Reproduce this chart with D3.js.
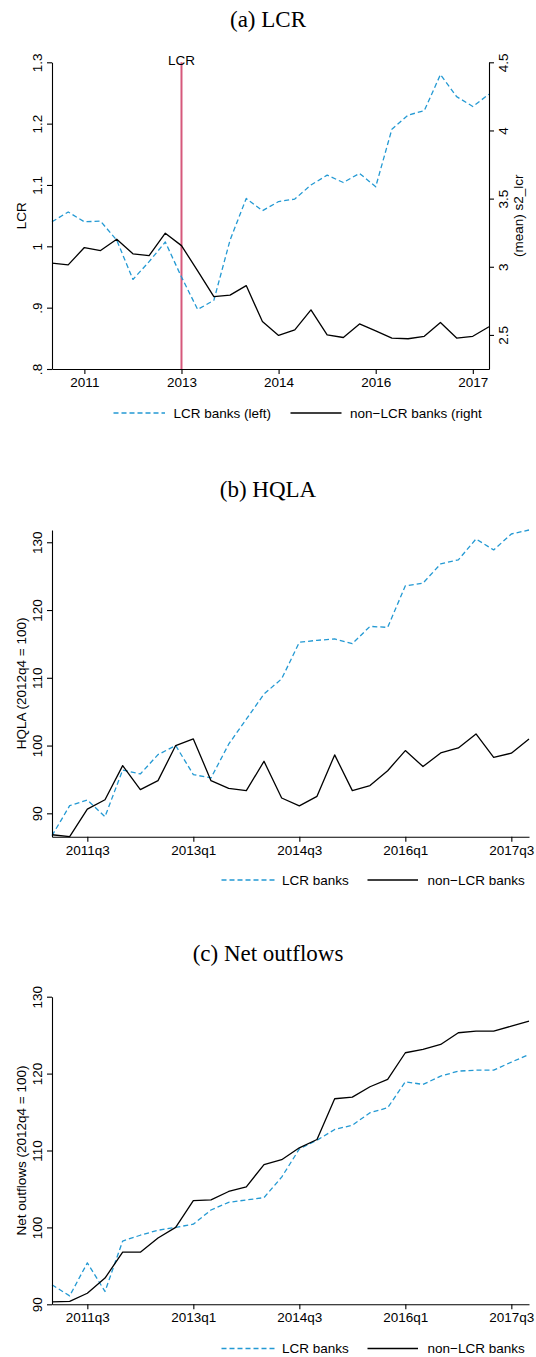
<!DOCTYPE html>
<html>
<head>
<meta charset="utf-8">
<script src="https://cdn.jsdelivr.net/npm/d3@7"></script>
<style>
  html, body { margin: 0; padding: 0; background: #fff; }
  svg { display: block; }
  text { font-family: "Liberation Sans", Arial, Helvetica, sans-serif; fill: #000; }
  .title { font-family: "Liberation Serif", "Times New Roman", serif; }
</style>
</head>
<body>
<svg id="fig" width="536" height="1357"></svg>
<script>
// Quarterly observation dates
const quarters = [
  "2011q1","2011q2","2011q3","2011q4",
  "2012q1","2012q2","2012q3","2012q4",
  "2013q1","2013q2","2013q3","2013q4",
  "2014q1","2014q2","2014q3","2014q4",
  "2015q1","2015q2","2015q3","2015q4",
  "2016q1","2016q2","2016q3","2016q4",
  "2017q1","2017q2","2017q3","2017q4"
];
const tickQuarters = ["2011q3","2013q1","2014q3","2016q1","2017q3"];
const yearTickLabels = ["2011","2013","2014","2016","2017"];
const eventQuarter = "2013q1";
const eventLabel = "LCR";

// (a) LCR: LCR banks (left axis) and non-LCR banks (right axis)
const lcrLCRBanks = [1.040, 1.056, 1.040, 1.041, 1.010, 0.946, 0.975, 1.007,
                     0.950, 0.897, 0.912, 1.010, 1.078, 1.058, 1.073, 1.077,
                     1.100, 1.116, 1.104, 1.119, 1.097, 1.191, 1.214, 1.221,
                     1.280, 1.244, 1.228, 1.248];
const lcrNonLCRBanks = [3.026, 3.014, 3.141, 3.119, 3.202, 3.095, 3.082, 3.246,
                        3.155, 2.970, 2.781, 2.792, 2.862, 2.598, 2.496, 2.537,
                        2.684, 2.501, 2.481, 2.581, 2.530, 2.477, 2.472, 2.490,
                        2.591, 2.477, 2.490, 2.560];
const lcrLeftTicks = [0.8, 0.9, 1.0, 1.1, 1.2, 1.3];
const lcrLeftTickLabels = [".8", ".9", "1", "1.1", "1.2", "1.3"];
const lcrRightTicks = [2.5, 3, 3.5, 4, 4.5];
const lcrRightTickLabels = ["2.5", "3", "3.5", "4", "4.5"];
const lcrLeftDomain = [0.8, 1.3];
const lcrRightDomain = [2.25, 4.5];

// (b) HQLA, index 2012q4 = 100
const hqlaLCRBanks = [86.70, 91.13, 91.97, 89.50, 96.40, 95.81, 98.66, 100.0,
                      95.71, 95.22, 100.2, 103.9, 107.6, 109.85, 115.24, 115.53,
                      115.73, 115.04, 117.59, 117.44, 123.57, 123.97, 126.81, 127.40,
                      130.49, 128.87, 131.22, 131.81];
const hqlaNonLCRBanks = [86.84, 86.55, 90.63, 92.01, 97.04, 93.50, 94.82, 100.0,
                         100.98, 94.82, 93.69, 93.35, 97.68, 92.26, 91.09, 92.51,
                         98.62, 93.35, 94.09, 96.29, 99.26, 96.90, 98.91, 99.65,
                         101.72, 98.27, 98.87, 100.98];

// (c) Net outflows, index 2012q4 = 100
const outflowsLCRBanks = [92.54, 91.09, 95.39, 91.67, 98.23, 98.98, 99.63, 100.0,
                          100.42, 102.26, 103.26, 103.57, 103.87, 106.54, 110.20, 111.34,
                          112.73, 113.29, 114.91, 115.56, 118.94, 118.59, 119.67, 120.32,
                          120.45, 120.45, 121.49, 122.49];
const outflowsNonLCRBanks = [90.31, 90.39, 91.44, 93.41, 96.78, 96.78, 98.63, 100.0,
                             103.48, 103.57, 104.67, 105.28, 108.17, 108.80, 110.35, 111.43,
                             116.73, 116.94, 118.29, 119.24, 122.71, 123.14, 123.79, 125.31,
                             125.52, 125.52, 126.17, 126.83];
const indexTicks = [90, 100, 110, 120, 130];

const BLUE = "#2399d3";
const EVENT_RED = "#d6587b";
const FS = "13.5px";

const svg = d3.select("#fig");

function styleAxis(g) {
  g.selectAll("path.domain").attr("stroke", "#000").attr("stroke-width", 1.1);
  g.selectAll(".tick line").attr("stroke", "#000").attr("stroke-width", 1.1);
  g.selectAll("text").attr("font-size", FS)
    .attr("font-family", '"Liberation Sans", Arial, sans-serif').attr("fill", "#000");
}

function drawTitle(text, y) {
  svg.append("text").attr("class", "title")
    .attr("x", 268).attr("y", y)
    .attr("text-anchor", "middle")
    .attr("font-size", "23px")
    .text(text);
}

function bottomAxis(x, yPos, labels) {
  const ax = d3.axisBottom(x)
    .tickValues(tickQuarters)
    .tickFormat((d, i) => labels[i])
    .tickSize(5).tickSizeOuter(0);
  const g = svg.append("g").attr("transform", `translate(0,${yPos})`).call(ax);
  styleAxis(g);
  g.selectAll("text").attr("y", 18).attr("dy", 0);
  return g;
}

function leftAxis(y, xPos, ticks, labels) {
  const ax = d3.axisLeft(y).tickValues(ticks)
    .tickFormat((d, i) => labels[i]).tickSize(5).tickSizeOuter(0);
  const g = svg.append("g").attr("transform", `translate(${xPos},0)`).call(ax);
  styleAxis(g);
  g.selectAll("text")
    .attr("transform", "rotate(-90)")
    .attr("x", 0).attr("y", -10).attr("dy", 0)
    .attr("text-anchor", "middle");
  return g;
}

function rightAxis(y, xPos, ticks, labels) {
  const ax = d3.axisRight(y).tickValues(ticks)
    .tickFormat((d, i) => labels[i]).tickSize(5).tickSizeOuter(0);
  const g = svg.append("g").attr("transform", `translate(${xPos},0)`).call(ax);
  styleAxis(g);
  g.selectAll("text")
    .attr("transform", "rotate(-90)")
    .attr("x", 0).attr("y", 19).attr("dy", 0)
    .attr("text-anchor", "middle");
  return g;
}

function axisTitle(text, x, yCenter) {
  svg.append("text")
    .attr("transform", `translate(${x},${yCenter}) rotate(-90)`)
    .attr("text-anchor", "middle")
    .attr("font-size", FS)
    .text(text);
}

function drawSeries(x, y, values, dashed) {
  const line = d3.line()
    .x((d, i) => x(quarters[i]))
    .y(d => y(d));
  svg.append("path")
    .datum(values)
    .attr("d", line)
    .attr("fill", "none")
    .attr("stroke", dashed ? BLUE : "#000")
    .attr("stroke-width", 1.3)
    .attr("stroke-dasharray", dashed ? "5,3" : null)
    .attr("stroke-linejoin", "round");
}

function legend(items, yc) {
  items.forEach(it => {
    svg.append("line")
      .attr("x1", it.x1).attr("x2", it.x2).attr("y1", yc).attr("y2", yc)
      .attr("stroke", it.dashed ? BLUE : "#000")
      .attr("stroke-width", 1.3)
      .attr("stroke-dasharray", it.dashed ? "5,3" : null);
    svg.append("text")
      .attr("x", it.tx).attr("y", yc + 4.8)
      .attr("font-size", FS)
      .text(it.label);
  });
}

// ---------- (a) LCR ----------
{
  drawTitle("(a) LCR", 27);
  const x = d3.scalePoint().domain(quarters).range([52, 489]);
  const yL = d3.scaleLinear().domain(lcrLeftDomain).range([369, 62.3]);
  const yR = d3.scaleLinear().domain(lcrRightDomain).range([369, 62.3]);

  // event line
  svg.append("line")
    .attr("x1", x(eventQuarter)).attr("x2", x(eventQuarter))
    .attr("y1", yL(1.3)).attr("y2", yL(0.8))
    .attr("stroke", EVENT_RED).attr("stroke-width", 2);

  drawSeries(x, yL, lcrLCRBanks, true);
  drawSeries(x, yR, lcrNonLCRBanks, false);

  svg.append("text")
    .attr("x", x(eventQuarter)).attr("y", 65)
    .attr("text-anchor", "middle").attr("font-size", FS)
    .text(eventLabel);

  leftAxis(yL, 52, lcrLeftTicks, lcrLeftTickLabels);
  rightAxis(yR, 489, lcrRightTicks, lcrRightTickLabels);
  bottomAxis(x, 369, yearTickLabels);

  axisTitle("LCR", 25.5, (369 + 62.3) / 2);
  axisTitle("(mean) s2_lcr", 523, (369 + 62.3) / 2);

  legend([
    {x1: 113.5, x2: 165, tx: 173.5, label: "LCR banks (left)", dashed: true},
    {x1: 290.5, x2: 341.5, tx: 350, label: "non\u2212LCR banks (right", dashed: false}
  ], 413);
}

// ---------- (b) HQLA ----------
{
  drawTitle("(b) HQLA", 497);
  const x = d3.scalePoint().domain(quarters).range([52, 529]);
  const ext = d3.extent([...hqlaLCRBanks, ...hqlaNonLCRBanks, ...indexTicks]);
  const y = d3.scaleLinear().domain(ext).range([836.7, 530]);

  drawSeries(x, y, hqlaLCRBanks, true);
  drawSeries(x, y, hqlaNonLCRBanks, false);

  leftAxis(y, 52, indexTicks, indexTicks.map(String));
  bottomAxis(x, 836.7, tickQuarters);
  axisTitle("HQLA (2012q4 = 100)", 25.5, (836.7 + 530) / 2);

  legend([
    {x1: 221.5, x2: 275, tx: 282, label: "LCR banks", dashed: true},
    {x1: 367.5, x2: 418, tx: 427.5, label: "non\u2212LCR banks", dashed: false}
  ], 880);
}

// ---------- (c) Net outflows ----------
{
  drawTitle("(c) Net outflows", 961);
  const x = d3.scalePoint().domain(quarters).range([52, 529]);
  const ext = d3.extent([...outflowsLCRBanks, ...outflowsNonLCRBanks, ...indexTicks]);
  const y = d3.scaleLinear().domain(ext).range([1304.3, 996.7]);

  drawSeries(x, y, outflowsLCRBanks, true);
  drawSeries(x, y, outflowsNonLCRBanks, false);

  leftAxis(y, 52, indexTicks, indexTicks.map(String));
  bottomAxis(x, 1304.3, tickQuarters);
  axisTitle("Net outflows (2012q4 = 100)", 25.5, (1304.3 + 996.7) / 2);

  legend([
    {x1: 221.5, x2: 275, tx: 282, label: "LCR banks", dashed: true},
    {x1: 367.5, x2: 418, tx: 427.5, label: "non\u2212LCR banks", dashed: false}
  ], 1348.5);
}
</script>
</body>
</html>
